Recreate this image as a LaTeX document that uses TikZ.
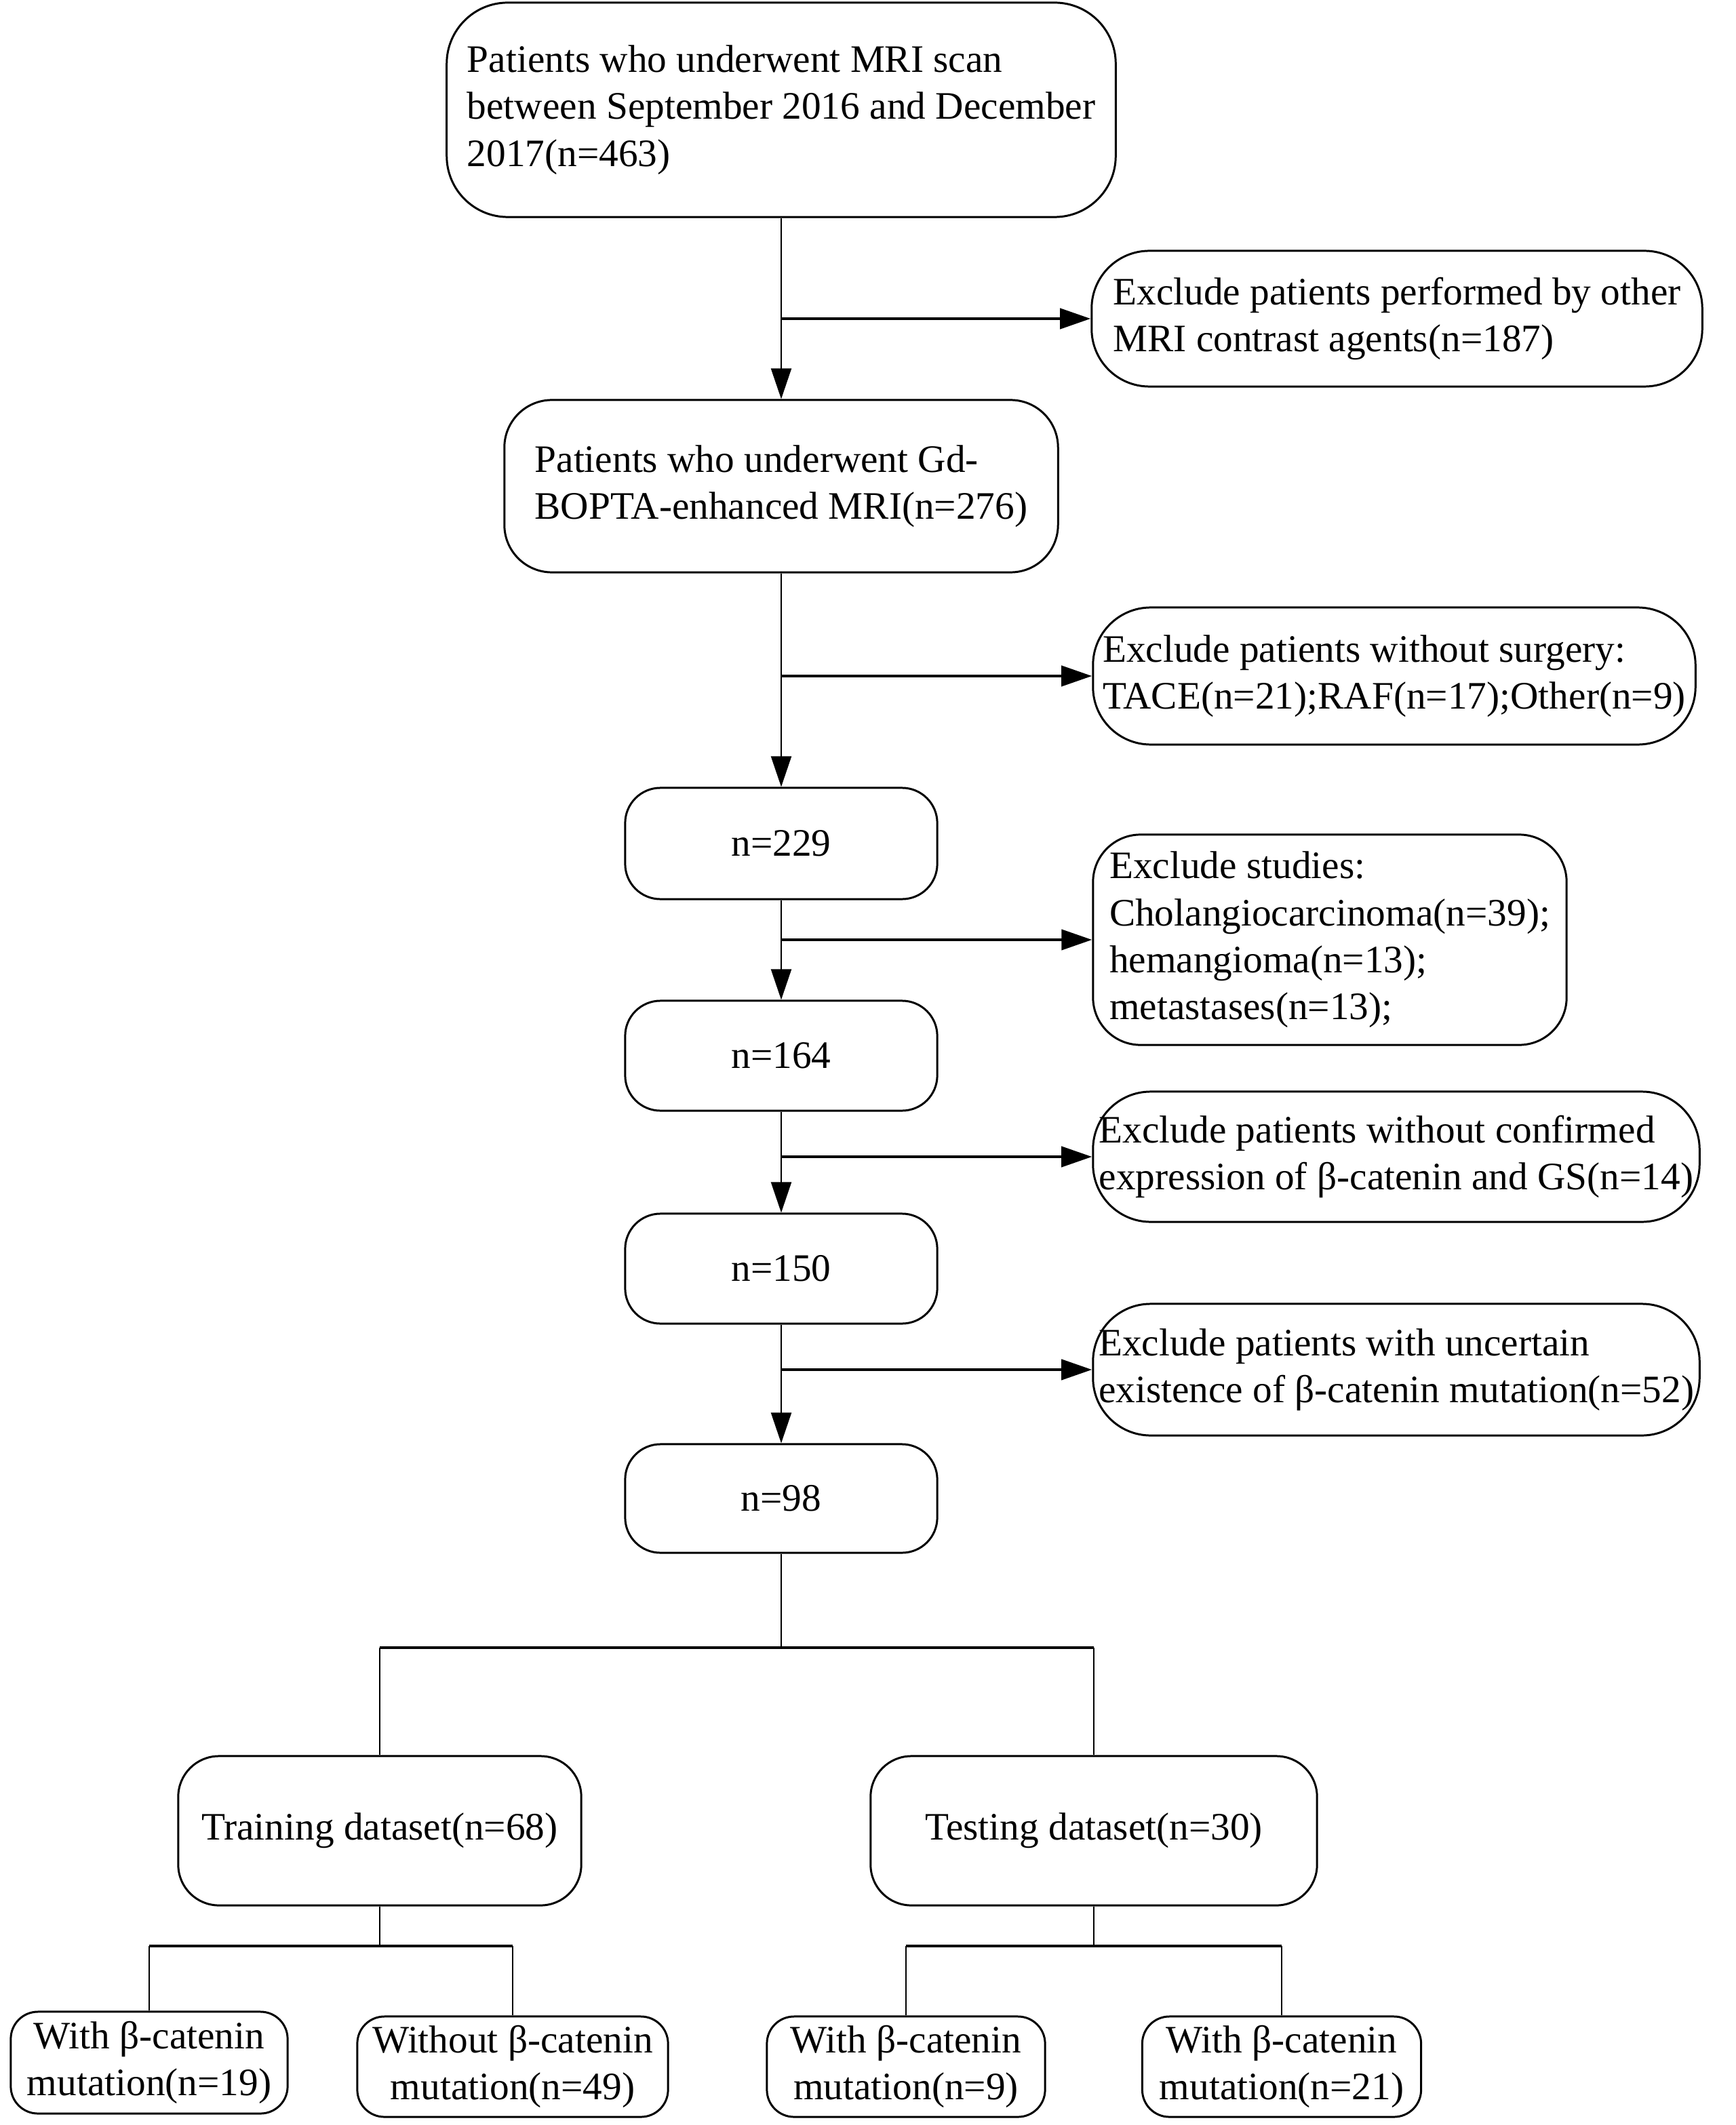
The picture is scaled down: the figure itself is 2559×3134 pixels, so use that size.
\documentclass[tikz,border=0pt]{standalone}
\usepackage{fontspec}
\setmainfont{Liberation Serif}
\usetikzlibrary{arrows.meta}
\tikzset{
  box/.style={draw, line width=0.85pt, rounded corners=#1, align=left, inner sep=0pt,
    font=\fontsize{16.3pt}{19.7pt}\selectfont},
  box/.default=0.5cm,
  cbox/.style={box=#1, align=center},
  cbox/.default=0.5cm,
  varrow/.style={line width=0.6pt, -{Triangle[length=0.45cm,width=0.30cm]}},
  harrow/.style={line width=1.2pt, -{Triangle[length=0.45cm,width=0.30cm]}},
  vline/.style={line width=0.6pt},
  hline/.style={line width=1.2pt}
}
\begin{document}
\begin{tikzpicture}[x=0.01cm,y=-0.01cm]
\useasboundingbox[fill=white] (0,0) rectangle (2559,3134);

% main column
\node[box=0.9cm, minimum width=9.86cm, minimum height=3.16cm] (b1) at (1152,162)
  {Patients who underwent MRI scan\\between September 2016 and December\\2017(n=463)};
\node[box=0.7cm, minimum width=8.16cm, minimum height=2.54cm] (b2) at (1152,717)
  {Patients who underwent Gd-\\BOPTA-enhanced MRI(n=276)};
\node[cbox=0.52cm, minimum width=4.6cm, minimum height=1.64cm] (n229) at (1152,1244) {n=229};
\node[cbox=0.52cm, minimum width=4.6cm, minimum height=1.62cm] (n164) at (1152,1557) {n=164};
\node[cbox=0.52cm, minimum width=4.6cm, minimum height=1.62cm] (n150) at (1152,1871) {n=150};
\node[cbox=0.52cm, minimum width=4.6cm, minimum height=1.60cm] (n98) at (1152,2210) {n=98};

% exclusion boxes
\node[box=0.85cm, minimum width=9.0cm, minimum height=2.0cm] (e1) at (2060,470)
  {Exclude patients performed by other\\MRI contrast agents(n=187)};
\node[box=0.85cm, minimum width=8.88cm, minimum height=2.02cm] (e2) at (2056,997)
  {Exclude patients without surgery:\\TACE(n=21);RAF(n=17);Other(n=9)};
\node[box=0.7cm, minimum width=6.98cm, minimum height=3.1cm] (e3) at (1961,1386)
  {Exclude studies:\\Cholangiocarcinoma(n=39);\\hemangioma(n=13);\\metastases(n=13);};
\node[box=0.85cm, minimum width=8.94cm, minimum height=1.92cm] (e4) at (2059,1706)
  {Exclude patients without confirmed\\expression of β-catenin and GS(n=14)};
\node[box=0.85cm, minimum width=8.94cm, minimum height=1.94cm] (e5) at (2059,2020)
  {Exclude patients with uncertain\\existence of β-catenin mutation(n=52)};

% datasets
\node[cbox=0.6cm, minimum width=5.94cm, minimum height=2.2cm] (train) at (560,2700) {Training dataset(n=68)};
\node[cbox=0.6cm, minimum width=6.58cm, minimum height=2.2cm] (test) at (1613,2700) {Testing dataset(n=30)};

% leaves
\node[cbox=0.4cm, minimum width=4.08cm, minimum height=1.5cm] (l1) at (220,3042) {With β-catenin\\mutation(n=19)};
\node[cbox=0.4cm, minimum width=4.58cm, minimum height=1.48cm] (l2) at (756,3048) {Without β-catenin\\mutation(n=49)};
\node[cbox=0.4cm, minimum width=4.10cm, minimum height=1.48cm] (l3) at (1336,3048) {With β-catenin\\mutation(n=9)};
\node[cbox=0.4cm, minimum width=4.11cm, minimum height=1.48cm] (l4) at (1890,3048) {With β-catenin\\mutation(n=21)};

% vertical arrows
\draw[varrow] (b1.south) -- (b2.north);
\draw[varrow] (b2.south) -- (n229.north);
\draw[varrow] (n229.south) -- (n164.north);
\draw[varrow] (n164.south) -- (n150.north);
\draw[varrow] (n150.south) -- (n98.north);

% side arrows
\draw[harrow] (b1.south |- e1.west) -- (e1.west);
\draw[harrow] (b2.south |- e2.west) -- (e2.west);
\draw[harrow] (n229.south |- e3.west) -- (e3.west);
\draw[harrow] (n164.south |- e4.west) -- (e4.west);
\draw[harrow] (n150.south |- e5.west) -- (e5.west);

% split into datasets
\coordinate (s1) at (1152,2430);
\draw[vline] (n98.south) -- (s1);
\draw[hline] (train.north |- s1) -- (test.north |- s1);
\draw[vline] (train.north |- s1) -- (train.north);
\draw[vline] (test.north |- s1) -- (test.north);

% training split
\coordinate (s2) at (560,2870);
\draw[vline] (train.south) -- (s2);
\draw[hline] (l1.north |- s2) -- (l2.north |- s2);
\draw[vline] (l1.north |- s2) -- (l1.north);
\draw[vline] (l2.north |- s2) -- (l2.north);

% testing split
\coordinate (s3) at (1613,2870);
\draw[vline] (test.south) -- (s3);
\draw[hline] (l3.north |- s3) -- (l4.north |- s3);
\draw[vline] (l3.north |- s3) -- (l3.north);
\draw[vline] (l4.north |- s3) -- (l4.north);
\end{tikzpicture}
\end{document}
